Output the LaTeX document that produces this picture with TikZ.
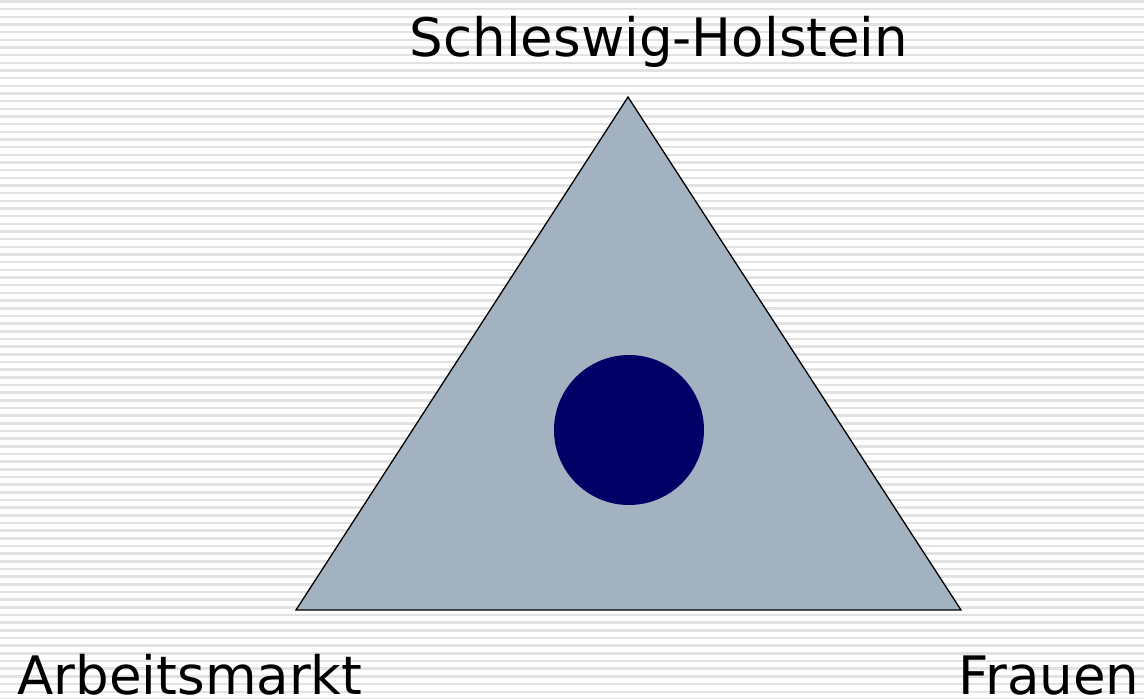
\documentclass[tikz,border=0pt]{standalone}
\usepackage{fontspec}
\setmainfont{DejaVu Sans}
\definecolor{stripe}{RGB}{226,226,226}
\definecolor{trifill}{RGB}{163,178,193}
\definecolor{dotfill}{RGB}{0,0,102}
\begin{document}
\begin{tikzpicture}[x=1pt,y=-1pt,
  lbl/.style={inner sep=0pt,anchor=base,font=\fontsize{53}{60}\selectfont}]
\useasboundingbox (0,0) rectangle (1144,699);
\fill[white] (0,0) rectangle (1144,699);
\foreach \i in {0,...,91}{
  \fill[stripe] (0,{0.2+7.67*\i}) rectangle (1144,{2.7+7.67*\i});
}
\coordinate (top) at (628,97);
\coordinate (bl) at (296,610);
\coordinate (br) at (961,610);
\draw[fill=trifill,line width=1.3pt,line join=miter] (top) -- (br) -- (bl) -- cycle;
\node[circle,fill=dotfill,minimum size=150pt,inner sep=0pt] (dot) at (629,430) {};
\node[lbl] (sh) at (659,56) {Schleswig-Holstein};
\node[lbl] (am) at (190,694) {Arbeitsmarkt};
\node[lbl] (fr) at (1049,694) {Frauen};
\end{tikzpicture}
\end{document}
